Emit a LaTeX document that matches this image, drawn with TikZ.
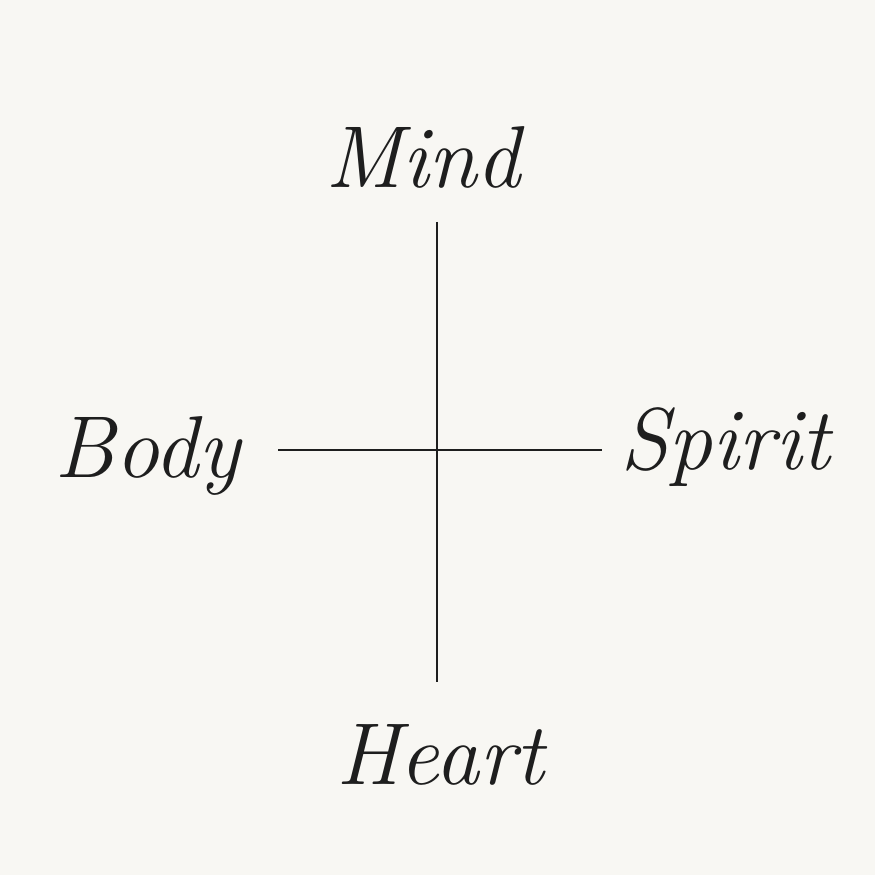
\documentclass[tikz,border=0pt]{standalone}
\usepackage{tikz}
\usetikzlibrary{positioning}
\definecolor{paper}{HTML}{F8F7F3}
\definecolor{ink}{HTML}{1E1E1E}

\begin{document}
\begin{tikzpicture}[
word/.style={anchor=base, text=ink, font=\fontsize{50}{60}\selectfont\itshape},
axis/.style={draw=ink, line width=1.1pt}
]
\fill[paper] (0,0) rectangle (17.5,17.5);
\useasboundingbox (0,0) rectangle (17.5,17.5);

\coordinate (top) at (8.74,13.06);
\coordinate (bottom) at (8.74,3.86);
\coordinate (left) at (5.56,8.5);
\coordinate (right) at (12.04,8.5);

\node[word] (mind) at (8.46,13.74) {Mind};
\node[word] (body) at (2.95,7.94) {Body};
\node[word] (spirit) at (14.5,8.1) {Spirit};
\node[word] (heart) at (8.8,1.8) {Heart};

\draw[axis] (top) -- (bottom);
\draw[axis] (left) -- (right);
\end{tikzpicture}
\end{document}
